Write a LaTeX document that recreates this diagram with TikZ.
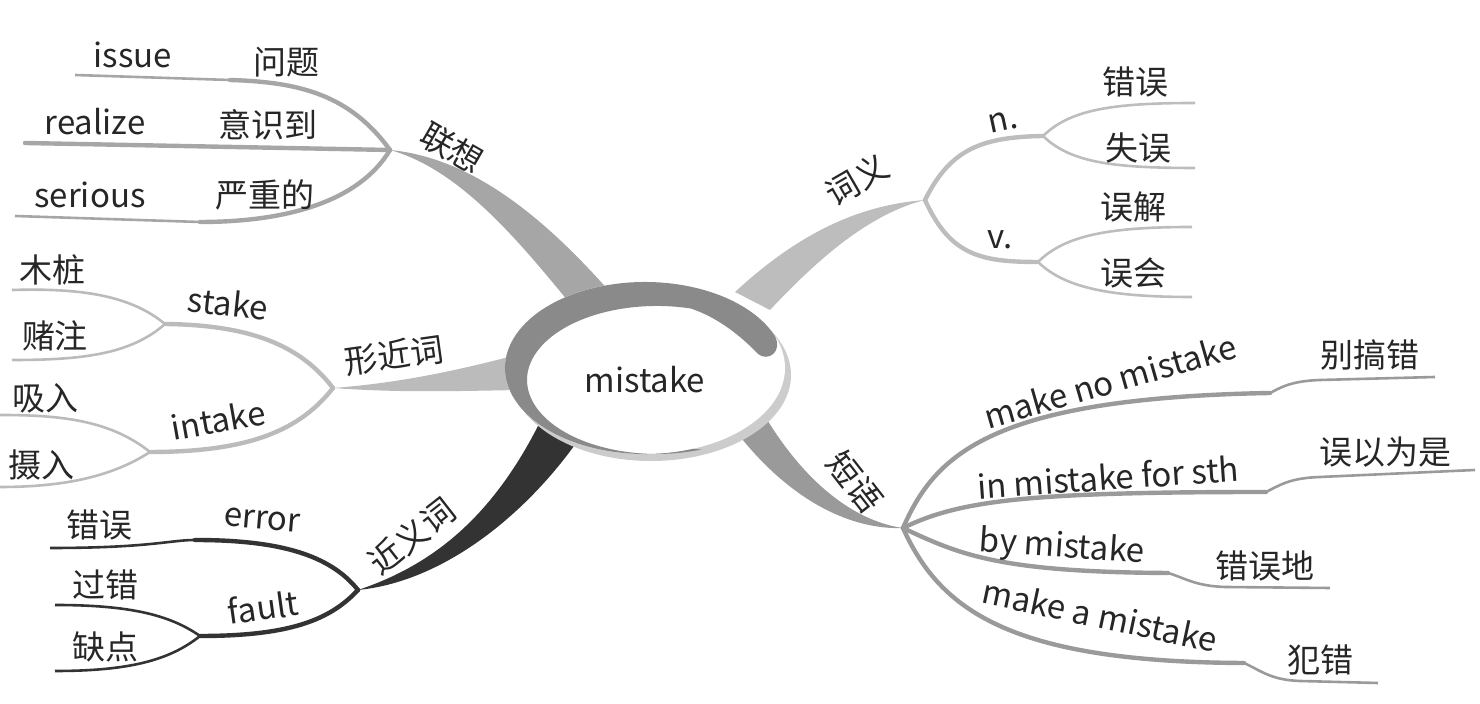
\documentclass[tikz,border=0pt]{standalone}
\usepackage{fontspec}
\setmainfont{Noto Sans CJK SC}
\usetikzlibrary{positioning}
\definecolor{assoc}{HTML}{A6A6A6}
\definecolor{sense}{HTML}{BDBDBD}
\definecolor{form}{HTML}{BBBBBB}
\definecolor{synon}{HTML}{333333}
\definecolor{phrase}{HTML}{9A9A9A}
\definecolor{hub}{HTML}{8A8A8A}
\definecolor{hubshade}{HTML}{CCCCCC}

\begin{document}
\begin{tikzpicture}[x=0.5pt, y=-0.5pt,
  every node/.style={font=\fontsize{16.5}{18}\selectfont, text=black!85, inner sep=0pt},
  twig/.style={line width=2.2pt, line cap=round},
  leaf/.style={line width=1.3pt}]
  \useasboundingbox (0,0) rectangle (1480,704);

  % junctions
  \coordinate (jA)  at (390,150);
  \coordinate (jB)  at (333,388);
  \coordinate (jC)  at (358,590);
  \coordinate (jD)  at (925,200);
  \coordinate (jE)  at (903,528);
  \coordinate (jBs) at (165,324);
  \coordinate (jBi) at (150,452);
  \coordinate (jCf) at (200,636);
  \coordinate (jDn) at (1043,136);
  \coordinate (jDv) at (1038,262);
  % bends
  \coordinate (kA1) at (230,80);
  \coordinate (kA3) at (200,222);
  \coordinate (kC1) at (195,540);
  \coordinate (kE1) at (1270,393);
  \coordinate (kE2) at (1266,492);
  \coordinate (kE3) at (1168,573);
  \coordinate (kE4) at (1244,663);
  % leaf ends
  \coordinate (eA1)  at (75,75);
  \coordinate (eA2)  at (25,143);
  \coordinate (eA3)  at (15,216);
  \coordinate (eBs1) at (12,290);
  \coordinate (eBs2) at (12,360);
  \coordinate (eBi1) at (0,415);
  \coordinate (eBi2) at (0,487);
  \coordinate (eC1)  at (50,548);
  \coordinate (eCf1) at (55,605);
  \coordinate (eCf2) at (55,671);
  \coordinate (eDn1) at (1195,103);
  \coordinate (eDn2) at (1195,168);
  \coordinate (eDv1) at (1192,227);
  \coordinate (eDv2) at (1192,297);
  \coordinate (eE1)  at (1435,377);
  \coordinate (eE2)  at (1475,470);
  \coordinate (eE3)  at (1330,588);
  \coordinate (eE4)  at (1378,683);

  % main stems
  \fill[assoc] (jA) .. controls (475,158) and (548,222) .. (610,292)
    -- (577,312) .. controls (522,245) and (462,170) .. (jA) -- cycle;
  \fill[form] (jB) .. controls (400,383) and (460,370) .. (520,354)
    -- (520,390) .. controls (460,391) and (400,393) .. (jB) -- cycle;
  \fill[synon] (jC) .. controls (430,566) and (490,520) .. (538,426)
    -- (574,446) .. controls (520,520) and (440,582) .. (jC) -- cycle;
  \fill[sense] (jD) .. controls (860,205) and (800,232) .. (735,292)
    -- (770,310) .. controls (815,262) and (868,214) .. (jD) -- cycle;
  \fill[phrase] (jE) .. controls (850,530) and (790,500) .. (738,434)
    -- (766,418) .. controls (810,490) and (860,522) .. (jE) -- cycle;

  % 联想
  \draw[twig,assoc] (jA) .. controls (350,95) and (300,82) .. (kA1);
  \draw[leaf,assoc] (kA1) -- (eA1);
  \draw[twig,assoc] (jA) -- (eA2);
  \draw[twig,assoc] (jA) .. controls (360,200) and (290,222) .. (kA3);
  \draw[leaf,assoc] (kA3) -- (eA3);
  % 形近词
  \draw[twig,form] (jB) .. controls (300,345) and (250,325) .. (jBs);
  \draw[leaf,form] (jBs) .. controls (130,295) and (80,288) .. (eBs1);
  \draw[leaf,form] (jBs) .. controls (130,355) and (80,360) .. (eBs2);
  \draw[twig,form] (jB) .. controls (300,430) and (250,452) .. (jBi);
  \draw[leaf,form] (jBi) .. controls (110,420) and (60,415) .. (eBi1);
  \draw[leaf,form] (jBi) .. controls (110,478) and (60,487) .. (eBi2);
  % 近义词
  \draw[twig,synon] (jC) .. controls (330,555) and (280,540) .. (kC1);
  \draw[leaf,synon] (kC1) .. controls (170,540) and (150,548) .. (eC1);
  \draw[twig,synon] (jC) .. controls (330,620) and (290,636) .. (jCf);
  \draw[leaf,synon] (jCf) .. controls (170,615) and (130,605) .. (eCf1);
  \draw[leaf,synon] (jCf) .. controls (170,660) and (130,671) .. (eCf2);
  % 词义
  \draw[twig,sense] (jD) .. controls (950,150) and (980,137) .. (jDn);
  \draw[leaf,sense] (jDn) .. controls (1070,110) and (1110,103) .. (eDn1);
  \draw[leaf,sense] (jDn) .. controls (1070,162) and (1110,168) .. (eDn2);
  \draw[twig,sense] (jD) .. controls (950,255) and (980,262) .. (jDv);
  \draw[leaf,sense] (jDv) .. controls (1065,235) and (1110,227) .. (eDv1);
  \draw[leaf,sense] (jDv) .. controls (1065,288) and (1110,297) .. (eDv2);
  % 短语
  \draw[twig,phrase] (jE) .. controls (935,455) and (990,398) .. (kE1);
  \draw[leaf,phrase] (kE1) .. controls (1280,388) and (1290,381) .. (1320,380) -- (eE1);
  \draw[twig,phrase] (jE) .. controls (960,500) and (1030,492) .. (kE2);
  \draw[leaf,phrase] (kE2) .. controls (1280,485) and (1290,478) .. (1320,477) -- (eE2);
  \draw[twig,phrase] (jE) .. controls (960,555) and (1000,572) .. (kE3);
  \draw[leaf,phrase] (kE3) .. controls (1185,578) and (1195,586) .. (1225,587) -- (eE3);
  \draw[twig,phrase] (jE) .. controls (940,610) and (1010,662) .. (kE4);
  \draw[leaf,phrase] (kE4) .. controls (1260,670) and (1270,680) .. (1300,681) -- (eE4);

  % centre
  \fill[hubshade] (651,375) ellipse [x radius=140, y radius=86];
  \fill[white] (645,368) ellipse [x radius=140, y radius=86];
  \fill[hub] (774.8,335.8) arc[start angle=338, end angle=70, x radius=140, y radius=86]
    -- (701.5,449.5) arc[start angle=70, end angle=285, x radius=130, y radius=74]
    .. controls (720,318) and (745,340) .. (758,354)
    .. controls (768,362) and (783,352) .. (774.8,335.8) -- cycle;
  \node (mistake) at (645,380) {mistake};

  % labels
  \node[rotate=-30] (assocLbl) at (452,148) {联想};
  \node (issue)   at (133,55)  {issue};
  \node (wenti)   at (286,62)  {问题};
  \node (realize) at (95,122)  {realize};
  \node (yishi)   at (268,125) {意识到};
  \node (serious) at (90,195)  {serious};
  \node (yanzhong) at (265,195) {严重的};

  \node[rotate=8] (formLbl) at (394,355) {形近词};
  \node[rotate=-6] (stake) at (228,303) {stake};
  \node (muzhuang) at (52,270)  {木桩};
  \node (duzhu)    at (55,336)  {赌注};
  \node[rotate=10] (intake) at (218,420) {intake};
  \node (xiru)     at (45,398)  {吸入};
  \node (sheru)    at (42,465)  {摄入};

  \node[rotate=38] (synonLbl) at (412,536) {近义词};
  \node[rotate=-5] (error) at (262,520) {error};
  \node (cuowuA)  at (100,525) {错误};
  \node[rotate=8] (fault) at (263,607) {fault};
  \node (guocuo)  at (105,585) {过错};
  \node (quedian) at (105,647) {缺点};

  \node[rotate=30] (senseLbl) at (857,180) {词义};
  \node[rotate=12] (noun) at (1003,122) {n.};
  \node (cuowuB)  at (1135,82)  {错误};
  \node (shiwu)   at (1138,148) {失误};
  \node (verb)    at (1000,240) {v.};
  \node (wujie)   at (1133,207) {误解};
  \node (wuhui)   at (1133,273) {误会};

  \node[rotate=-52] (phraseLbl) at (855,482) {短语};
  \node[rotate=16] (noMistake) at (1110,381) {make no mistake};
  \node (biegao)   at (1370,355) {别搞错};
  \node[rotate=4] (inMistake) at (1108,477) {in mistake for sth};
  \node (wuyiwei)  at (1385,452) {误以为是};
  \node[rotate=-4] (byMistake) at (1062,548) {by mistake};
  \node (cuowudi)  at (1265,566) {错误地};
  \node[rotate=-12] (aMistake) at (1100,615) {make a mistake};
  \node (fancuo)   at (1320,660) {犯错};
\end{tikzpicture}
\end{document}
